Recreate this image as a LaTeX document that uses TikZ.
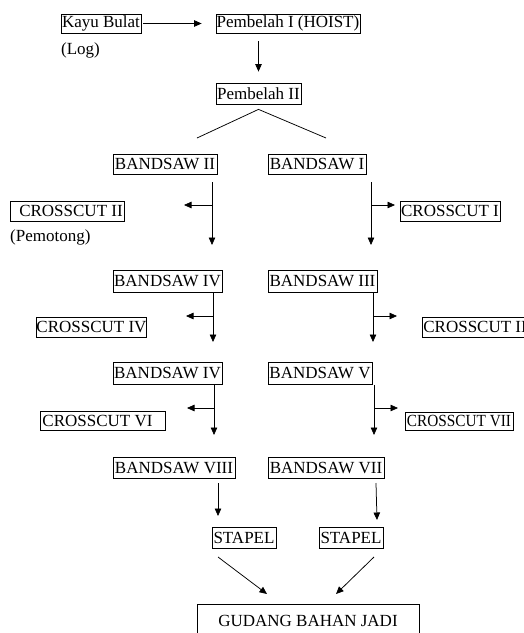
\documentclass[tikz,border=0pt]{standalone}
\usepackage{fontspec}
\setmainfont{Liberation Serif}
\usetikzlibrary{arrows.meta}
\begin{document}
\begin{tikzpicture}[x=1pt,y=-1pt,
  every node/.style={font=\fontsize{17}{20}\selectfont, inner sep=0pt},
  box/.style={draw, line width=0.75pt, align=center},
  plain/.style={anchor=west},
  ln/.style={line width=0.75pt},
  arr/.style={line width=0.75pt, -{Triangle[length=7.5pt,width=6.5pt]}}]
\useasboundingbox (0,0) rectangle (524,633);
\clip (0,0) rectangle (524,633);
% nodes
\node[box, minimum width=80pt, minimum height=19pt] (kayu) at (101,23.5) {Kayu Bulat};
\node[plain] (log) at (61,50) {(Log)};
\node[box, minimum width=144pt, minimum height=19pt] (p1) at (288,23.5) {Pembelah I (HOIST)};
\node[box, minimum width=85pt, minimum height=21pt] (p2) at (258.5,93.5) {Pembelah II};
\node[box, minimum width=104pt, minimum height=20pt] (bs2) at (165,164) {BANDSAW II};
\node[box, minimum width=98pt, minimum height=20pt] (bs1) at (317,164) {BANDSAW I};
\node[box, minimum width=114pt, minimum height=20pt] (cc2) at (67,211) {\hspace*{8pt}CROSSCUT II};
\node[plain] (pem) at (10,237) {(Pemotong)};
\node[box, minimum width=100pt, minimum height=20pt] (cc1) at (450,211) {CROSSCUT I};
\node[box, minimum width=109pt, minimum height=22pt] (bs4a) at (167.5,281) {BANDSAW IV};
\node[box, minimum width=109pt, minimum height=22pt] (bs3) at (322.5,281) {BANDSAW III};
\node[box, minimum width=103pt, minimum height=20pt] (cc4) at (91.5,327) {CROSSCUT IV};
\node[box, minimum width=112pt, minimum height=20pt, anchor=west] (cc3) at (422,327) {\hspace*{1pt}CROSSCUT III\hspace*{2pt}};
\node[box, minimum width=109pt, minimum height=22pt] (bs4b) at (167.5,373) {BANDSAW IV};
\node[box, minimum width=104pt, minimum height=22pt] (bs5) at (320,373) {BANDSAW V};
\node[box, minimum width=125pt, minimum height=19pt] (cc6) at (102.5,420.5) {\hspace*{2pt}CROSSCUT VI\hspace*{12pt}};
\node[box, minimum width=108pt, minimum height=18pt] (cc7) at (459,421) {\scalebox{0.9}[1]{CROSSCUT VII}};
\node[box, minimum width=122pt, minimum height=21pt] (bs8) at (174,467.5) {BANDSAW VIII};
\node[box, minimum width=116pt, minimum height=21pt] (bs7) at (326,467.5) {BANDSAW VII};
\node[box, minimum width=64pt, minimum height=21pt] (st1) at (244,537.5) {STAPEL};
\node[box, minimum width=64pt, minimum height=21pt] (st2) at (351,537.5) {STAPEL};
\node[box, minimum width=222pt, minimum height=34pt] (gud) at (308,621) {GUDANG BAHAN JADI};
% connectors
\draw[arr, shorten <=2pt, shorten >=14pt] (kayu.east) -- (p1.west |- kayu.east);
\draw[arr, shorten <=8pt, shorten >=11pt] (p2.north |- p1.south) -- (p2.north);
\coordinate (apex) at ([yshift=-5pt]p2.south);
\coordinate (sl) at (197,138);
\coordinate (sr) at (326,138);
\draw[ln] (sl) -- (apex) -- (sr);
% left column
\coordinate (L1a) at (212,182); \coordinate (L1b) at (212,245); \coordinate (L1j) at (212,205); \coordinate (L1e) at (184,205);
\coordinate (L2a) at (213,292); \coordinate (L2b) at (213,342); \coordinate (L2j) at (213,316); \coordinate (L2e) at (186,316);
\coordinate (L3a) at (214,385); \coordinate (L3b) at (214,435); \coordinate (L3j) at (214,408); \coordinate (L3e) at (187,408);
\coordinate (L4a) at (218,483); \coordinate (L4b) at (218,516);
\draw[arr] (L1a) -- (L1b); \draw[arr] (L1j) -- (L1e);
\draw[arr] (L2a) -- (L2b); \draw[arr] (L2j) -- (L2e);
\draw[arr] (L3a) -- (L3b); \draw[arr] (L3j) -- (L3e);
\draw[arr] (L4a) -- (L4b);
% right column
\coordinate (R1a) at (371,182); \coordinate (R1b) at (371,245); \coordinate (R1j) at (371,205); \coordinate (R1e) at (395,205);
\coordinate (R2a) at (373,292); \coordinate (R2b) at (373,342); \coordinate (R2j) at (373,316); \coordinate (R2e) at (397,316);
\coordinate (R3a) at (374,385); \coordinate (R3b) at (374,435); \coordinate (R3j) at (374,408); \coordinate (R3e) at (398,408);
\coordinate (R4a) at (376,483); \coordinate (R4b) at (377,520);
\draw[arr] (R1a) -- (R1b); \draw[arr] (R1j) -- (R1e);
\draw[arr] (R2a) -- (R2b); \draw[arr] (R2j) -- (R2e);
\draw[arr] (R3a) -- (R3b); \draw[arr] (R3j) -- (R3e);
\draw[arr] (R4a) -- (R4b);
% to warehouse
\coordinate (D1a) at (218,557); \coordinate (D1b) at (267,594);
\coordinate (D2a) at (374,557); \coordinate (D2b) at (336,594);
\draw[arr] (D1a) -- (D1b);
\draw[arr] (D2a) -- (D2b);
\end{tikzpicture}
\end{document}
